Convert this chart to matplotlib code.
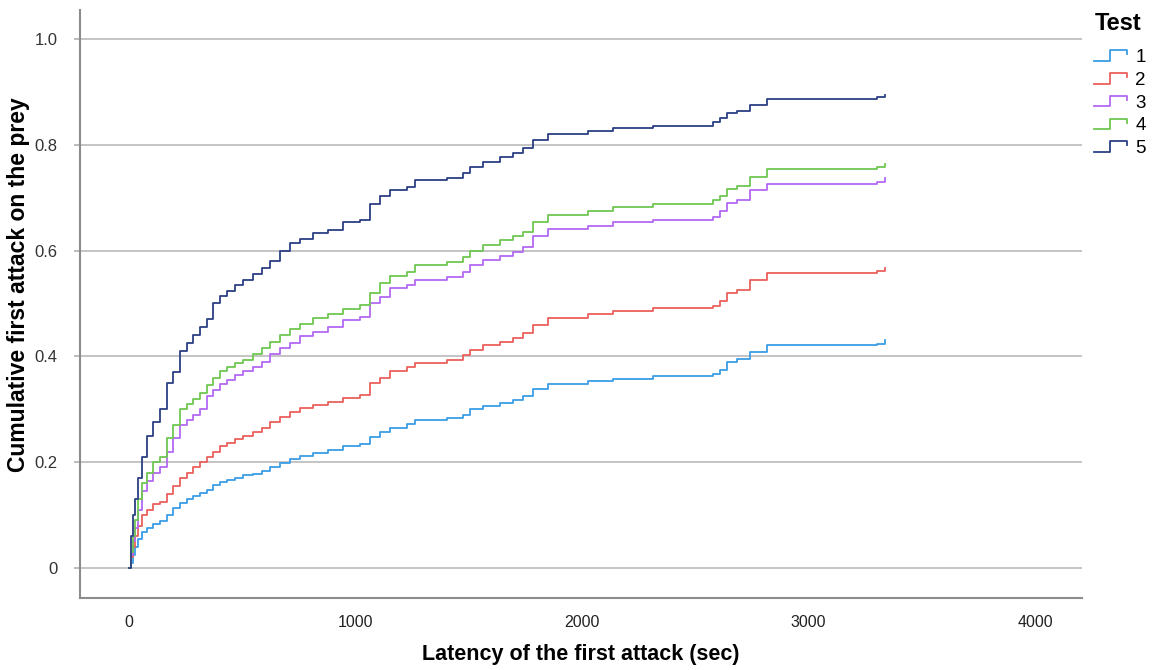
import matplotlib
matplotlib.use("Agg")
import matplotlib.pyplot as plt
import numpy as np
from matplotlib import font_manager
from matplotlib.legend_handler import HandlerBase
from matplotlib.lines import Line2D

# event times (sec) shared by all groups, values are cumulative proportions after each step
times = [0, 9, 18, 26, 40, 57, 79, 106, 137, 168, 194, 225, 256, 283, 313, 344, 371,
         402, 433, 468, 503, 547, 587, 622, 667, 711, 755, 812, 879, 945, 1020, 1064,
         1108, 1152, 1227, 1263, 1404, 1475, 1506, 1563, 1638, 1695, 1740, 1784, 1850,
         2026, 2137, 2313, 2578, 2609, 2640, 2684, 2742, 2817, 3302, 3338]

test1 = [0, 0.01, 0.025, 0.04, 0.055, 0.068, 0.075, 0.082, 0.088, 0.10, 0.113, 0.122,
         0.13, 0.136, 0.141, 0.148, 0.157, 0.163, 0.167, 0.170, 0.175, 0.178, 0.183,
         0.19, 0.198, 0.205, 0.212, 0.218, 0.222, 0.23, 0.234, 0.248, 0.256, 0.265,
         0.272, 0.28, 0.284, 0.29, 0.30, 0.307, 0.312, 0.318, 0.325, 0.338, 0.348,
         0.353, 0.358, 0.362, 0.366, 0.375, 0.39, 0.395, 0.408, 0.421, 0.424, 0.431]
test2 = [0, 0.02, 0.04, 0.06, 0.08, 0.10, 0.11, 0.12, 0.125, 0.14, 0.155, 0.17, 0.18,
         0.19, 0.20, 0.21, 0.22, 0.23, 0.237, 0.243, 0.25, 0.257, 0.265, 0.275, 0.285,
         0.295, 0.302, 0.308, 0.314, 0.322, 0.327, 0.35, 0.36, 0.372, 0.38, 0.388,
         0.393, 0.403, 0.412, 0.422, 0.427, 0.435, 0.445, 0.459, 0.473, 0.48, 0.486,
         0.491, 0.495, 0.505, 0.52, 0.526, 0.544, 0.558, 0.561, 0.567]
test3 = [0, 0.025, 0.05, 0.075, 0.11, 0.145, 0.165, 0.18, 0.19, 0.22, 0.245, 0.27, 0.28,
         0.29, 0.30, 0.325, 0.337, 0.347, 0.355, 0.365, 0.372, 0.38, 0.39, 0.405, 0.415,
         0.426, 0.438, 0.447, 0.455, 0.468, 0.474, 0.50, 0.512, 0.53, 0.535, 0.544,
         0.55, 0.56, 0.572, 0.582, 0.59, 0.597, 0.607, 0.627, 0.641, 0.646, 0.654,
         0.658, 0.664, 0.675, 0.69, 0.696, 0.714, 0.726, 0.730, 0.737]
test4 = [0, 0.03, 0.06, 0.09, 0.13, 0.16, 0.18, 0.20, 0.21, 0.245, 0.27, 0.30, 0.31,
         0.32, 0.33, 0.345, 0.36, 0.372, 0.38, 0.388, 0.393, 0.405, 0.415, 0.428, 0.44,
         0.452, 0.462, 0.472, 0.48, 0.49, 0.497, 0.52, 0.538, 0.552, 0.56, 0.572,
         0.578, 0.588, 0.60, 0.61, 0.62, 0.627, 0.636, 0.654, 0.668, 0.675, 0.682,
         0.688, 0.695, 0.703, 0.716, 0.722, 0.74, 0.754, 0.758, 0.764]
test5 = [0, 0.06, 0.10, 0.13, 0.17, 0.21, 0.25, 0.275, 0.30, 0.35, 0.37, 0.41, 0.425,
         0.44, 0.456, 0.47, 0.50, 0.515, 0.524, 0.535, 0.544, 0.556, 0.568, 0.58, 0.60,
         0.614, 0.622, 0.633, 0.639, 0.654, 0.658, 0.688, 0.703, 0.715, 0.72, 0.733,
         0.738, 0.747, 0.758, 0.767, 0.777, 0.784, 0.794, 0.809, 0.82, 0.827, 0.832,
         0.836, 0.843, 0.85, 0.86, 0.865, 0.875, 0.886, 0.890, 0.894]

series = [test1, test2, test3, test4, test5]
labels = ["1", "2", "3", "4", "5"]
colors = ["#3a9de6", "#ec605d", "#b468f2", "#6fc752", "#2c3f85"]

xticks = [0, 1000, 2000, 3000, 4000]
yticks = [0, 0.2, 0.4, 0.6, 0.8, 1.0]
ytick_labels = ["0", "0.2", "0.4", "0.6", "0.8", "1.0"]

installed = {f.name for f in font_manager.fontManager.ttflist}
narrow = "Liberation Sans Narrow" if "Liberation Sans Narrow" in installed else "Liberation Sans"
plt.rcParams["font.family"] = ["Liberation Sans", "DejaVu Sans"]


class StepHandler(HandlerBase):
    """Small staircase glyph for the legend."""

    def create_artists(self, legend, orig_handle, xdescent, ydescent,
                       width, height, fontsize, trans):
        fx = np.array([0, 0.48, 0.48, 1.0, 1.0])
        fy = np.array([0.1, 0.1, 0.9, 0.9, 0.6])
        line = Line2D(fx * width - xdescent, fy * height - ydescent,
                      color=orig_handle.get_color(), lw=orig_handle.get_linewidth())
        line.set_transform(trans)
        return [line]


fig = plt.figure(figsize=(11.52, 6.70), dpi=100)
ax = fig.add_axes((0.0694, 0.1075, 0.8700, 0.8775))

handles = []
for vals, lab, col in zip(series, labels, colors):
    h, = ax.step(times, vals, where="post", color=col, lw=1.3, label=lab)
    handles.append(h)

ax.set_xlim(-216, 4207)
ax.set_ylim(-0.057, 1.055)
ax.set_xticks(xticks)
ax.set_xticklabels([str(t) for t in xticks], fontfamily=narrow, fontsize=11.5, color="#222222")
ax.set_yticks(yticks)
ax.set_yticklabels(ytick_labels, fontsize=12, color="#333333")
ax.tick_params(axis="x", length=0, pad=12)
ax.tick_params(axis="y", length=4, width=1.2, color="#b0b0b0", pad=12)

ax.grid(axis="y", color="#c4c4c4", lw=1.4)
ax.set_axisbelow(True)
for side in ("top", "right"):
    ax.spines[side].set_visible(False)
for side in ("left", "bottom"):
    ax.spines[side].set_color("#8c8c8c")
    ax.spines[side].set_linewidth(1.5)

ax.set_xlabel("Latency of the first attack (sec)", fontfamily=narrow,
              fontsize=15.5, fontweight="bold", va="center")
ax.xaxis.set_label_coords(0.5, (598 - 655) / 588)
ax.set_ylabel("Cumulative first attack on the prey", fontsize=16.5,
              fontweight="bold", va="center")
ax.yaxis.set_label_coords((19 - 80) / 1002, (598 - 285) / 588)

leg = fig.legend(handles=handles, labels=labels,
                 loc="upper left", bbox_to_anchor=(1094 / 1152, 1 - 49 / 670),
                 frameon=False, fontsize=13.5, handlelength=1.75, handletextpad=0.45,
                 labelspacing=0.3, borderpad=0, borderaxespad=0,
                 handler_map={Line2D: StepHandler()})
fig.text(1095 / 1152, 1 - 23 / 670, "Test", fontsize=17, fontweight="bold",
         ha="left", va="center")

fig.savefig("out.png", dpi=100)
